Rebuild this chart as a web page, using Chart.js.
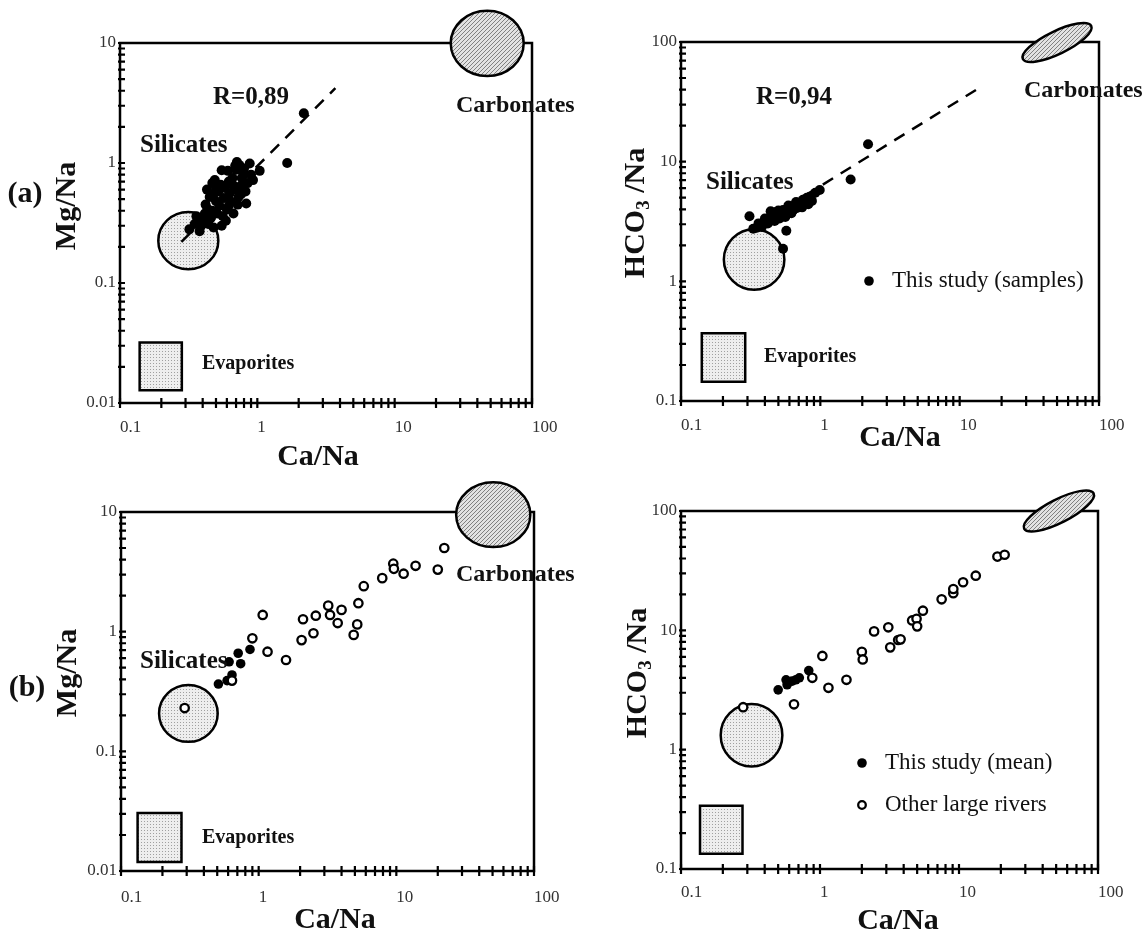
<!DOCTYPE html>
<html>
<head>
<meta charset="utf-8">
<script src="https://cdn.jsdelivr.net/npm/chart.js@4.4.1/dist/chart.umd.min.js"></script>
<style>
  html, body { margin: 0; padding: 0; background: #fff; }
  #wrap { position: relative; width: 1148px; height: 934px; overflow: hidden; }
  canvas { position: absolute; }
</style>
</head>
<body>
<div id="wrap">
  <canvas id="chartA" width="580" height="467" style="left:0;top:0"></canvas>
  <canvas id="chartB" width="568" height="467" style="left:580px;top:0"></canvas>
  <canvas id="chartC" width="580" height="467" style="left:0;top:467px"></canvas>
  <canvas id="chartD" width="568" height="467" style="left:580px;top:467px"></canvas>
</div>
<script>
// ---- values ----
// (a) left: samples, Ca/Na vs Mg/Na
const caNaSamplesA = [2.18, 1.65, 1.04, 0.32, 0.38, 0.55, 0.71, 0.88, 0.93, 0.49, 0.45, 0.415, 0.36, 0.44, 0.60,
  0.63, 0.75, 0.79, 0.83, 0.67, 0.40, 0.42, 0.47, 0.50, 0.53, 0.52, 0.57, 0.58, 0.62, 0.66, 0.68, 0.70, 0.73,
  0.77, 0.80, 0.85, 0.64, 0.56, 0.48, 0.44, 0.39, 0.46, 0.51, 0.54, 0.61, 0.69, 0.74, 0.72, 0.59, 0.43, 0.47,
  0.66, 0.82, 0.90, 0.76, 0.55, 0.48, 0.62, 0.35, 0.50];
const mgNaSamplesA = [2.6, 1.0, 0.86, 0.28, 0.27, 0.87, 1.02, 0.99, 0.72, 0.72, 0.52, 0.38, 0.36, 0.31, 0.41,
  0.56, 0.64, 0.82, 0.46, 0.38, 0.33, 0.45, 0.40, 0.48, 0.44, 0.58, 0.51, 0.62, 0.70, 0.75, 0.60, 0.88, 0.52,
  0.75, 0.90, 0.68, 0.48, 0.36, 0.55, 0.41, 0.30, 0.35, 0.38, 0.66, 0.86, 0.95, 0.96, 0.45, 0.33, 0.60, 0.68,
  0.66, 0.58, 0.80, 0.55, 0.30, 0.29, 0.44, 0.31, 0.62];
const trendCaA = [0.28, 3.7];
const trendMgA = [0.22, 4.2];

// (a) right: samples, Ca/Na vs HCO3/Na
const caNaSamplesB = [2.2, 1.65, 0.31, 0.57, 0.54, 0.35, 0.37, 0.39, 0.41, 0.40, 0.42, 0.43, 0.44, 0.45, 0.46,
  0.46, 0.48, 0.48, 0.50, 0.50, 0.52, 0.53, 0.54, 0.55, 0.57, 0.58, 0.60, 0.61, 0.63, 0.64, 0.66, 0.68, 0.70,
  0.72, 0.75, 0.77, 0.80, 0.84, 0.87, 0.92, 0.99, 0.36, 0.38, 0.47, 0.51, 0.56, 0.62, 0.33, 0.44, 0.59, 0.67,
  0.74, 0.82];
const hco3NaSamplesB = [14, 7.1, 3.5, 2.65, 1.87, 2.8, 2.95, 3.1, 3.2, 3.35, 3.05, 3.4, 3.3, 3.6, 3.5,
  3.75, 3.45, 3.8, 3.6, 3.9, 3.7, 3.5, 3.95, 3.8, 4.0, 3.65, 4.1, 3.85, 4.25, 3.95, 4.35, 4.1, 4.5,
  4.3, 4.8, 4.5, 5.0, 5.1, 4.7, 5.5, 5.8, 3.05, 2.85, 3.2, 3.35, 3.45, 3.7, 2.75, 3.85, 4.3, 4.6,
  4.15, 4.4];
const trendCaB = [0.32, 13.2];
const trendHco3B = [2.75, 40];

// (b) left: station means and other large rivers, Ca/Na vs Mg/Na
const caNaMeanC = [0.51, 0.59, 0.64, 0.61, 0.71, 0.74, 0.865];
const mgNaMeanC = [0.365, 0.39, 0.435, 0.56, 0.66, 0.54, 0.71];
const caNaRiversC = [0.29, 0.64, 0.9, 1.07, 1.16, 1.58, 2.05, 2.1, 2.5, 2.6, 3.2, 3.3, 3.75, 4.0, 4.9, 5.2, 5.3,
  5.8, 7.9, 9.5, 9.6, 11.3, 13.8, 20, 22.3];
const mgNaRiversC = [0.23, 0.39, 0.88, 1.38, 0.68, 0.58, 0.85, 1.27, 0.97, 1.36, 1.65, 1.38, 1.18, 1.52, 0.94, 1.15,
  1.73, 2.4, 2.8, 3.7, 3.35, 3.05, 3.55, 3.3, 5.0];

// (b) right: station means and other large rivers, Ca/Na vs HCO3/Na
const caNaMeanD = [0.5, 0.57, 0.58, 0.63, 0.67, 0.71, 0.83];
const hco3NaMeanD = [3.17, 3.85, 3.5, 3.75, 3.85, 4.0, 4.6];
const caNaRiversD = [0.28, 0.65, 0.88, 1.04, 1.15, 1.55, 2.0, 2.03, 2.45, 3.1, 3.2, 3.65, 3.8, 4.6, 4.95, 5.0, 5.5,
  7.5, 9.1, 9.1, 10.7, 13.2, 18.9, 21.3];
const hco3NaRiversD = [2.27, 2.4, 4.0, 6.1, 3.3, 3.85, 6.6, 5.7, 9.8, 10.6, 7.2, 8.3, 8.4, 12.1, 12.5, 10.8, 14.6,
  18.2, 20.5, 22.2, 25.3, 28.7, 41.5, 43];

// end-member fields (data-space extents)
const silicatesA = { x: [0.19, 0.52], y: [0.13, 0.39] };
const carbonatesA = { x: [25.6, 87], y: [5.3, 18.6] };
const evaporitesA = { x: [0.139, 0.282], y: [0.0128, 0.032] };
const silicatesB = { x: [0.203, 0.552], y: [0.85, 2.73] };
const carbonatesB = { c: [50, 99], end: [88, 136] };
const evaporitesB = { x: [0.141, 0.289], y: [0.145, 0.368] };
const silicatesC = { x: [0.189, 0.504], y: [0.12, 0.358] };
const carbonatesC = { x: [27.2, 94], y: [5.09, 17.7] };
const evaporitesC = { x: [0.132, 0.275], y: [0.0119, 0.0306] };
const silicatesD = { x: [0.193, 0.536], y: [0.723, 2.41] };
const carbonatesD = { c: [52.3, 100], end: [93, 140.6] };
const evaporitesD = { x: [0.137, 0.277], y: [0.134, 0.339] };

// axis ticks
const minorSteps = [1, 2, 3, 4, 5, 6, 7, 8, 9];
const caNaTickLabels = ['0.1', '1', '10', '100'];
const mgNaTickLabels = ['0.01', '0.1', '1', '10'];
const hco3NaTickLabels = ['0.1', '1', '10', '100'];

const SERIF = "'Liberation Serif', 'Times New Roman', serif";

function tickValues(labels) {
  const d = labels.map(Number);
  const out = [];
  d.slice(0, -1).forEach(v => minorSteps.forEach(k => out.push(v * k)));
  out.push(d[d.length - 1]);
  return out;
}
function pts(xs, ys) { return xs.map((x, i) => ({ x: x, y: ys[i] })); }

let stippleFill = null, hatchFill = null;
function makePatterns(ctx) {
  if (stippleFill) return;
  const a = document.createElement('canvas');
  a.width = 3; a.height = 3;
  const g = a.getContext('2d');
  g.fillStyle = '#eeeeee'; g.fillRect(0, 0, 3, 3);
  g.fillStyle = '#a0a0a0'; g.fillRect(0, 0, 1, 1);
  stippleFill = ctx.createPattern(a, 'repeat');
  const b = document.createElement('canvas');
  b.width = 4; b.height = 4;
  const h = b.getContext('2d');
  h.fillStyle = '#e2e2e2'; h.fillRect(0, 0, 4, 4);
  h.fillStyle = '#808080';
  h.fillRect(0, 3, 1, 1); h.fillRect(1, 2, 1, 1); h.fillRect(2, 1, 1, 1); h.fillRect(3, 0, 1, 1);
  hatchFill = ctx.createPattern(b, 'repeat');
}

// text / shapes for each panel (positions in canvas pixels)
const decor = {
  chartA: {
    shapes: [
      { kind: 'ellipse', r: carbonatesA, fill: 'hatch' },
      { kind: 'ellipse', r: silicatesA, fill: 'stipple' },
      { kind: 'rect', r: evaporitesA, fill: 'stipple' }
    ],
    texts: [
      { t: '(a)', x: 25, y: 194, size: 30, align: 'center' },
      { t: 'R=0,89', x: 213, y: 98, size: 25 },
      { t: 'Silicates', x: 140, y: 146, size: 25 },
      { t: 'Carbonates', x: 456, y: 106, size: 24 },
      { t: 'Evaporites', x: 202, y: 364, size: 20 }
    ],
    yTitle: { parts: [['Mg/Na', 0]], x: 67, y: 206 },
    xTitle: { t: 'Ca/Na', x: 318, y: 457 },
    legend: []
  },
  chartB: {
    shapes: [
      { kind: 'tilted', r: carbonatesB, ratio: 0.3, fill: 'hatch' },
      { kind: 'ellipse', r: silicatesB, fill: 'stipple' },
      { kind: 'rect', r: evaporitesB, fill: 'stipple' }
    ],
    texts: [
      { t: 'R=0,94', x: 176, y: 98, size: 25 },
      { t: 'Silicates', x: 126, y: 183, size: 25 },
      { t: 'Carbonates', x: 444, y: 91, size: 24 },
      { t: 'Evaporites', x: 184, y: 357, size: 20 }
    ],
    yTitle: { parts: [['HCO', 0], ['3', 1], [' /Na', 0]], x: 56, y: 213 },
    xTitle: { t: 'Ca/Na', x: 320, y: 438 },
    legend: [{ open: false, x: 289, y: 281, t: 'This study (samples)' }]
  },
  chartC: {
    shapes: [
      { kind: 'ellipse', r: carbonatesC, fill: 'hatch' },
      { kind: 'ellipse', r: silicatesC, fill: 'stipple' },
      { kind: 'rect', r: evaporitesC, fill: 'stipple' }
    ],
    texts: [
      { t: '(b)', x: 27, y: 221, size: 30, align: 'center' },
      { t: 'Silicates', x: 140, y: 195, size: 25 },
      { t: 'Carbonates', x: 456, y: 108, size: 24 },
      { t: 'Evaporites', x: 202, y: 371, size: 20 }
    ],
    yTitle: { parts: [['Mg/Na', 0]], x: 68, y: 206 },
    xTitle: { t: 'Ca/Na', x: 335, y: 453 },
    legend: []
  },
  chartD: {
    shapes: [
      { kind: 'tilted', r: carbonatesD, ratio: 0.3, fill: 'hatch' },
      { kind: 'ellipse', r: silicatesD, fill: 'stipple' },
      { kind: 'rect', r: evaporitesD, fill: 'stipple' }
    ],
    texts: [],
    yTitle: { parts: [['HCO', 0], ['3', 1], [' /Na', 0]], x: 58, y: 206 },
    xTitle: { t: 'Ca/Na', x: 318, y: 454 },
    legend: [
      { open: false, x: 282, y: 296, t: 'This study (mean)' },
      { open: true, x: 282, y: 338, t: 'Other large rivers' }
    ]
  }
};

function drawShape(chart, sh) {
  const ctx = chart.ctx, xs = chart.scales.x, ys = chart.scales.y;
  ctx.save();
  ctx.beginPath();
  if (sh.kind === 'rect') {
    const x0 = xs.getPixelForValue(sh.r.x[0]), x1 = xs.getPixelForValue(sh.r.x[1]);
    const y0 = ys.getPixelForValue(sh.r.y[1]), y1 = ys.getPixelForValue(sh.r.y[0]);
    ctx.rect(x0, y0, x1 - x0, y1 - y0);
  } else if (sh.kind === 'ellipse') {
    const x0 = xs.getPixelForValue(sh.r.x[0]), x1 = xs.getPixelForValue(sh.r.x[1]);
    const y0 = ys.getPixelForValue(sh.r.y[1]), y1 = ys.getPixelForValue(sh.r.y[0]);
    ctx.ellipse((x0 + x1) / 2, (y0 + y1) / 2, (x1 - x0) / 2, (y1 - y0) / 2, 0, 0, Math.PI * 2);
  } else {
    const cx = xs.getPixelForValue(sh.r.c[0]), cy = ys.getPixelForValue(sh.r.c[1]);
    const ex = xs.getPixelForValue(sh.r.end[0]), ey = ys.getPixelForValue(sh.r.end[1]);
    const a = Math.hypot(ex - cx, ey - cy);
    ctx.ellipse(cx, cy, a, a * sh.ratio, Math.atan2(ey - cy, ex - cx), 0, Math.PI * 2);
  }
  ctx.fillStyle = sh.fill === 'hatch' ? hatchFill : stippleFill;
  ctx.fill();
  ctx.lineWidth = 2.5;
  ctx.strokeStyle = '#000';
  ctx.stroke();
  ctx.restore();
}

function drawFrame(chart) {
  const ctx = chart.ctx, a = chart.chartArea, xs = chart.scales.x, ys = chart.scales.y;
  ctx.save();
  ctx.strokeStyle = '#000';
  ctx.lineWidth = 2.5;
  ctx.strokeRect(a.left, a.top, a.right - a.left, a.bottom - a.top);
  ctx.lineWidth = 2.2;
  ctx.beginPath();
  xs.ticks.forEach(t => {
    const p = xs.getPixelForValue(t.value);
    ctx.moveTo(p, a.bottom - 5); ctx.lineTo(p, a.bottom + 5);
  });
  ys.ticks.forEach(t => {
    const p = ys.getPixelForValue(t.value);
    ctx.moveTo(a.left - 2, p); ctx.lineTo(a.left + 5, p);
  });
  ctx.stroke();
  ctx.restore();
}

const decorPlugin = {
  id: 'decor',
  beforeDatasetsDraw(chart) {
    const d = decor[chart.canvas.id];
    makePatterns(chart.ctx);
    drawFrame(chart);
    d.shapes.forEach(sh => drawShape(chart, sh));
  },
  afterDatasetsDraw(chart) {
    const d = decor[chart.canvas.id];
    const ctx = chart.ctx;
    ctx.save();
    ctx.fillStyle = '#111';
    ctx.textBaseline = 'middle';
    d.texts.forEach(tx => {
      ctx.font = 'bold ' + tx.size + 'px ' + SERIF;
      ctx.textAlign = tx.align || 'left';
      ctx.fillText(tx.t, tx.x, tx.y);
    });
    // axis titles
    ctx.font = 'bold 30px ' + SERIF;
    ctx.textAlign = 'center';
    ctx.fillText(d.xTitle.t, d.xTitle.x, d.xTitle.y);
    ctx.save();
    ctx.translate(d.yTitle.x, d.yTitle.y);
    ctx.rotate(-Math.PI / 2);
    const widths = d.yTitle.parts.map(p => {
      ctx.font = 'bold ' + (p[1] ? 19 : 30) + 'px ' + SERIF;
      return ctx.measureText(p[0]).width;
    });
    let x = -widths.reduce((s, w) => s + w, 0) / 2;
    ctx.textAlign = 'left';
    d.yTitle.parts.forEach((p, i) => {
      ctx.font = 'bold ' + (p[1] ? 19 : 30) + 'px ' + SERIF;
      ctx.fillText(p[0], x, p[1] ? 8 : 0);
      x += widths[i];
    });
    ctx.restore();
    // legend
    ctx.font = '23px ' + SERIF;
    ctx.textAlign = 'left';
    d.legend.forEach(l => {
      ctx.beginPath();
      ctx.arc(l.x, l.y, l.open ? 3.8 : 4.8, 0, Math.PI * 2);
      if (l.open) {
        ctx.fillStyle = '#fff'; ctx.fill();
        ctx.lineWidth = 2.3; ctx.strokeStyle = '#000'; ctx.stroke();
      } else {
        ctx.fillStyle = '#000'; ctx.fill();
      }
      ctx.fillStyle = '#111';
      ctx.fillText(l.t, l.x + 23, l.y);
    });
    ctx.restore();
  }
};

function logAxis(labels, fitSize, horizontal, pad) {
  const vals = labels.map(Number);
  return {
    type: 'logarithmic',
    min: vals[0],
    max: vals[vals.length - 1],
    grid: { display: false, drawTicks: false, tickLength: 0 },
    border: { display: false },
    afterBuildTicks: s => { s.ticks = tickValues(labels).map(v => ({ value: v })); },
    afterFit: s => { if (horizontal) s.height = fitSize; else s.width = fitSize; },
    ticks: {
      autoSkip: false,
      maxRotation: 0,
      minRotation: 0,
      padding: pad,
      align: horizontal ? 'start' : 'center',
      color: '#333',
      font: { family: SERIF, size: 17 },
      callback: v => {
        const i = vals.findIndex(d => Math.abs(d - v) / d < 1e-6);
        return i < 0 ? '' : labels[i];
      }
    }
  };
}

function makeChart(id, area, yLabels, datasets, xPad) {
  const cv = document.getElementById(id);
  const W = cv.width, H = cv.height;
  return new Chart(cv, {
    type: 'scatter',
    data: { datasets: datasets },
    options: {
      responsive: false,
      animation: false,
      events: [],
      layout: { padding: { left: 0, top: area.top, right: W - area.right, bottom: 0 } },
      plugins: { legend: { display: false }, tooltip: { enabled: false } },
      scales: {
        x: logAxis(caNaTickLabels, H - area.bottom, true, xPad),
        y: logAxis(yLabels, area.left, false, 4)
      }
    },
    plugins: [decorPlugin]
  });
}

function filled(xs, ys, r) {
  return { data: pts(xs, ys), pointRadius: r, backgroundColor: '#000', borderColor: '#000', borderWidth: 0 };
}
function open(xs, ys) {
  return { data: pts(xs, ys), pointRadius: 4.2, backgroundColor: '#fff', borderColor: '#000', borderWidth: 2.3 };
}
function trend(xs, ys) {
  return { data: pts(xs, ys), showLine: true, pointRadius: 0, borderColor: '#000', borderWidth: 2.5,
    borderDash: [12, 9], fill: false };
}

makeChart('chartA', { left: 120, top: 43, right: 532, bottom: 403 }, mgNaTickLabels,
  [trend(trendCaA, trendMgA), filled(caNaSamplesA, mgNaSamplesA, 5)], 14);
makeChart('chartB', { left: 101, top: 42, right: 519, bottom: 401 }, hco3NaTickLabels,
  [trend(trendCaB, trendHco3B), filled(caNaSamplesB, hco3NaSamplesB, 5)], 14);
makeChart('chartC', { left: 121, top: 45, right: 534, bottom: 404 }, mgNaTickLabels,
  [open(caNaRiversC, mgNaRiversC), filled(caNaMeanC, mgNaMeanC, 4.8)], 16);
makeChart('chartD', { left: 101, top: 44, right: 518, bottom: 402 }, hco3NaTickLabels,
  [open(caNaRiversD, hco3NaRiversD), filled(caNaMeanD, hco3NaMeanD, 4.8)], 13);
</script>
</body>
</html>
